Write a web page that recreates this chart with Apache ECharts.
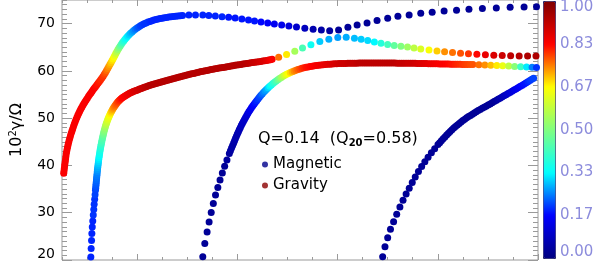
<!DOCTYPE html>
<html><head><meta charset="utf-8">
<script src="https://cdn.jsdelivr.net/npm/echarts@6/dist/echarts.min.js"></script>
<style>html,body{margin:0;padding:0;background:#fff}#c{width:598px;height:261px}</style>
</head><body><div id="c"></div><script>
// ---- data: x (unlabelled axis), y = 10^2 gamma/Omega, c = colour value ----
const topX = [.267,.270,.273,.276,.279,.2825,.286,.2895,.293,.298,.303,.3085,.314,.3205,.327,.3345,.342,.3495,.357,.365,
.373,.3815,.390,.3995,.409,.4185,.428,.438,.448,.4585,.469,.480,.491,.503,.515,.527,.539,.5505,.562,.574,
.586,.5985,.611,.6235,.636,.6485,.661,.6725,.684,.695,.706,.717,.728,.7385,.749,.759,.769,.7785,.788,.7985,
.809,.820,.831,.8425,.854,.8665,.879,.892,.905,.9195,.934,.9495,.965,.9815,.998,1.015,1.032,1.0505,1.069,1.0885,
1.108,1.1275,1.147,1.1675,1.188,1.209,1.230,1.2505,1.271,1.2935,1.316,1.3385,1.361,1.3835,1.406,1.4295,1.453,
1.516,1.582,1.655,1.715,1.780,1.847,1.913,1.978,2.045,2.111,2.171,2.236,2.303,2.369,2.442,2.514,2.590,2.673,2.756,2.838,
2.921,3.010,3.103,3.195,3.294,3.394,3.500,3.602,3.714,3.830,3.944,4.063,4.187,4.311,4.445,4.584,4.722,4.861,4.985];
const topY = [38.34,38.85,39.35,39.86,40.37,40.89,41.41,41.99,42.57,43.10,43.63,44.16,44.68,45.21,45.74,46.27,46.80,47.30,47.79,48.28,
48.77,49.25,49.72,50.20,50.67,51.10,51.52,51.92,52.32,52.71,53.10,53.47,53.84,54.24,54.63,54.99,55.35,55.70,56.05,56.39,
56.72,57.07,57.42,57.78,58.14,58.51,58.88,59.28,59.68,60.10,60.51,60.92,61.33,61.74,62.14,62.54,62.94,63.33,63.72,64.12,
64.51,64.89,65.27,65.63,65.99,66.34,66.69,67.02,67.34,67.65,67.96,68.25,68.53,68.80,69.06,69.30,69.54,69.76,69.97,70.15,
70.32,70.47,70.62,70.75,70.87,70.97,71.07,71.15,71.23,71.31,71.38,71.45,71.51,71.58,71.64,71.69,71.74,
71.83,71.83,71.83,71.72,71.62,71.47,71.34,71.19,70.98,70.77,70.56,70.35,70.13,69.92,69.71,69.50,69.29,69.01,68.80,68.65,
68.51,68.65,69.22,69.71,70.13,70.66,71.13,71.55,71.83,72.19,72.42,72.67,72.84,73.03,73.18,73.31,73.46,73.52,73.56];
const topC = [.84,.84,.84,.84,.84,.84,.84,.84,.84,.84,.84,.84,.84,.84,.84,.84,.84,.84,.84,.84,
.84,.84,.84,.84,.84,.84,.84,.84,.84,.84,.84,.84,.84,.84,.84,.84,.84,.84,.84,.84,
.83,.825,.82,.815,.81,.805,.8,.79,.78,.765,.75,.735,.72,.705,.69,.675,.66,.63,.6,.565,
.53,.5,.47,.44,.41,.385,.36,.34,.32,.305,.29,.275,.26,.245,.23,.22,.21,.205,.2,.2,
.2,.195,.19,.19,.19,.19,.19,.19,.19,.19,.19,.19,.19,.19,.19,.19,.19,
.19,.19,.19,.19,.19,.19,.18,.18,.18,.18,.18,.17,.16,.15,.14,.12,.1,.08,.06,.05,
.04,.03,.03,.03,.03,.03,.03,.03,.03,.03,.03,.03,.03,.03,.03,.03,.03,.03,.03];

const midX = [.538,.541,.545,.548,.552,.557,.562,.567,.571,.576,.580,
.584,.586,.588,.590,.592,.594,.596,.598,.600,.602,.604,.6065,.609,.6115,.614,.6165,.619,.622,.625,.628,
.631,.6345,.638,.6415,.645,.649,.653,.657,.661,.665,.669,.674,.679,.684,.689,.6945,.700,.706,.712,.7185,
.725,.732,.739,.7465,.754,.762,.770,.7785,.787,.7965,.806,.816,.826,.837,.848,.8595,.871,.883,.895,.9075,
.920,.9335,.947,.961,.975,.9895,1.004,1.0185,1.033,1.0485,1.064,1.080,1.096,1.1125,1.129,1.1455,1.162,1.1795,1.197,1.2145,
1.232,1.2495,1.267,1.285,1.303,1.321,1.339,1.3575,1.376,1.394,1.412,1.431,1.450,1.469,1.488,1.5065,1.525,1.544,1.563,1.5825,
1.602,1.621,1.640,1.6595,1.679,1.6985,1.718,1.7375,1.757,1.777,1.797,1.817,1.837,1.8565,1.876,1.896,1.916,1.936,1.956,1.9755,
1.995,2.015,2.035,2.055,2.075,2.0945,2.114,2.134,2.154,2.174,2.194,2.2135,2.233,2.253,2.273,2.293,2.313,2.330,2.347,
2.412,2.491,2.573,2.650,2.734,2.823,2.913,3.002,3.086,3.168,3.235,3.301,3.367,3.433,3.500,3.565,3.632,3.698,3.763,3.830,
3.912,3.992,4.068,4.147,4.227,4.306,4.390,4.475,4.559,4.643,4.727,4.812,4.896,4.980];
const midY = [20.63,22.43,24.12,25.60,26.98,28.25,29.52,30.68,31.78,32.84,33.81,
34.74,35.20,35.65,36.08,36.50,36.95,37.39,37.83,38.27,38.71,39.14,39.57,39.99,40.41,40.83,41.25,41.66,42.07,42.48,42.90,
43.31,43.71,44.11,44.51,44.90,45.29,45.68,46.06,46.44,46.81,47.18,47.55,47.92,48.28,48.64,48.98,49.32,49.66,49.99,50.31,
50.63,50.94,51.24,51.54,51.84,52.12,52.39,52.65,52.91,53.16,53.40,53.62,53.84,54.05,54.25,54.43,54.61,54.77,54.92,55.07,
55.22,55.36,55.49,55.62,55.75,55.87,55.98,56.10,56.21,56.35,56.49,56.61,56.72,56.84,56.95,57.07,57.19,57.30,57.40,57.51,
57.61,57.72,57.82,57.93,58.03,58.14,58.25,58.36,58.46,58.57,58.67,58.78,58.88,58.99,59.09,59.19,59.28,59.38,59.47,59.57,
59.66,59.76,59.85,59.94,60.02,60.11,60.19,60.28,60.36,60.44,60.51,60.59,60.66,60.73,60.80,60.88,60.95,61.03,61.10,61.18,
61.25,61.32,61.38,61.44,61.50,61.57,61.63,61.70,61.76,61.82,61.88,61.95,62.01,62.08,62.14,62.22,62.29,62.38,62.46,
62.90,63.49,64.17,64.85,65.52,66.20,66.71,67.05,67.11,66.90,66.69,66.41,66.11,65.84,65.59,65.37,65.21,65.06,64.85,64.63,
64.42,64.21,64.04,63.89,63.75,63.62,63.51,63.41,63.32,63.26,63.20,63.15,63.15,63.15];
const midC = [.19,.19,.19,.19,.19,.19,.2,.2,.2,.2,.21,
.21,.215,.22,.225,.23,.235,.24,.245,.25,.26,.27,.28,.29,.30,.31,.32,.33,.34,.35,.36,
.37,.38,.39,.405,.42,.43,.44,.455,.47,.485,.5,.515,.53,.55,.57,.585,.6,.615,.63,.645,
.66,.675,.69,.705,.72,.735,.75,.76,.77,.78,.79,.80,.81,.82,.83,.835,.84,.845,.85,.855,
.86,.865,.87,.875,.88,.885,.89,.895,.9,.905,.91,.915,.92,.925,.93,.93,.93,.93,.93,.93,
.93,.93,.93,.93,.93,.93,.93,.93,.93,.93,.93,.93,.93,.93,.93,.93,.93,.93,.93,.93,
.93,.93,.93,.93,.93,.93,.93,.93,.93,.93,.93,.93,.93,.93,.93,.93,.93,.93,.93,.93,
.93,.93,.93,.93,.93,.925,.92,.915,.91,.905,.9,.895,.89,.885,.88,.87,.86,.85,.84,
.76,.68,.55,.43,.35,.3,.28,.27,.28,.29,.3,.31,.33,.38,.42,.46,.5,.54,.58,.62,
.66,.7,.74,.76,.78,.8,.83,.86,.88,.9,.92,.93,.94,.94];

const low1X = [1.655,1.675,1.698,1.718,1.739,1.760,1.782,1.805,1.827,1.850,1.873,1.896,
1.920,1.931,1.942,1.9525,1.963,1.972,1.981,1.9905,2.000,2.0095,2.019,2.029,2.039,2.0495,2.060,2.071,2.082,2.093,2.104,2.116,
2.128,2.1405,2.153,2.166,2.179,2.1925,2.206,2.2195,2.233,2.2475,2.262,2.277,2.292,2.3075,2.323,2.3385,2.354,2.3705,2.387,2.404,
2.421,2.438,2.455,2.473,2.491,2.5095,2.528,2.547,2.566,2.585,2.604,2.624,2.644,2.6645,2.685,2.7055,2.726,2.7475,2.769,2.7905,
2.812,2.8345,2.857,2.880,2.903,2.925,2.947,2.9695,2.992,3.0145,3.037,3.059,3.081,3.1035,3.126,3.148,3.170,3.1925,3.215,3.2375,
3.260,3.282,3.304,3.3265,3.349,3.3715,3.394,3.416,3.438,3.4605,3.483,3.505,3.527,3.5495,3.572,3.5945,3.617,3.639,3.661,3.6835,
3.706,3.7285,3.751,3.773,3.795,3.8175,3.840,3.862,3.884,3.9065,3.929,3.9515,3.974,3.996,4.018,4.0405,4.063,4.0855,4.108,4.130,
4.152,4.1745,4.197,4.2215,4.246,4.271,4.296,4.3235,4.351,
4.410,4.470,4.529,4.589,4.648,4.708,4.767,4.827,4.886,4.941,4.985];
const low1Y = [20.70,23.49,25.92,28.04,30.05,31.95,33.75,35.33,36.92,38.40,39.82,41.15,
42.53,43.11,43.69,44.22,44.75,45.23,45.70,46.18,46.65,47.10,47.54,47.99,48.43,48.87,49.30,49.72,50.14,50.57,50.99,51.39,
51.79,52.19,52.58,52.96,53.34,53.71,54.08,54.44,54.80,55.14,55.47,55.80,56.13,56.44,56.74,57.04,57.34,57.62,57.89,58.14,
58.39,58.63,58.86,59.07,59.28,59.47,59.66,59.83,60.00,60.15,60.30,60.43,60.55,60.66,60.76,60.85,60.93,61.01,61.08,61.15,
61.21,61.26,61.31,61.36,61.40,61.43,61.46,61.49,61.52,61.55,61.57,61.58,61.59,61.60,61.61,61.62,61.63,61.64,61.65,61.65,
61.65,61.65,61.65,61.65,61.65,61.65,61.65,61.65,61.65,61.65,61.65,61.65,61.65,61.65,61.65,61.64,61.63,61.63,61.63,61.62,
61.61,61.61,61.61,61.60,61.59,61.58,61.57,61.56,61.55,61.54,61.52,61.51,61.50,61.49,61.48,61.47,61.46,61.45,61.44,61.43,
61.42,61.41,61.40,61.39,61.38,61.37,61.35,61.34,61.33,
61.29,61.25,61.21,61.14,61.08,61.02,60.95,60.89,60.83,60.76,60.72];
const low1C = [.03,.03,.03,.03,.03,.03,.03,.03,.03,.03,.03,.04,
.04,.045,.05,.05,.05,.055,.06,.06,.06,.065,.07,.075,.08,.085,.09,.095,.1,.11,.12,.13,
.14,.15,.16,.17,.18,.19,.2,.21,.22,.235,.25,.265,.28,.305,.33,.355,.38,.405,.43,.465,
.5,.535,.57,.605,.64,.665,.69,.715,.74,.755,.77,.785,.8,.81,.82,.825,.83,.835,.84,.845,
.85,.855,.86,.865,.87,.875,.88,.885,.89,.895,.9,.9,.9,.905,.91,.91,.91,.915,.92,.92,
.92,.92,.92,.92,.92,.92,.92,.92,.92,.92,.92,.92,.92,.92,.92,.915,.91,.91,.91,.905,
.9,.9,.9,.895,.89,.885,.88,.875,.87,.865,.86,.855,.85,.845,.84,.84,.84,.835,.83,.825,
.82,.815,.81,.805,.8,.795,.79,.785,.78,
.76,.74,.71,.68,.64,.58,.51,.41,.32,.25,.2];

const low2X = [3.450,3.473,3.500,3.528,3.559,3.590,3.622,3.653,3.684,3.715,3.745,3.775,3.807,3.839,3.871,3.903,3.936,3.969,
4.002,4.019,4.036,4.0535,4.071,4.0885,4.106,4.1235,4.141,4.159,4.177,4.1955,4.214,4.232,4.250,4.269,4.288,4.307,4.326,4.345,
4.364,4.3835,4.403,4.423,4.443,4.4625,4.482,4.502,4.522,4.542,4.562,4.5815,4.601,4.621,4.641,4.661,4.681,4.7005,4.720,4.740,
4.760,4.780,4.800,4.8195,4.839,4.859,4.879,4.899,4.919,4.9375,4.956,4.972,4.988];
const low2Y = [20.70,22.81,24.71,26.49,28.10,29.69,31.21,32.65,33.96,35.19,36.37,37.56,38.70,39.76,40.77,41.74,42.68,43.56,
44.41,44.82,45.23,45.64,46.04,46.42,46.80,47.17,47.54,47.90,48.26,48.58,48.89,49.19,49.49,49.79,50.08,50.34,50.59,50.84,
51.09,51.35,51.60,51.85,52.09,52.32,52.55,52.79,53.02,53.27,53.51,53.75,53.99,54.24,54.48,54.73,54.97,55.21,55.45,55.70,
55.94,56.19,56.43,56.68,56.93,57.19,57.44,57.70,57.95,58.21,58.46,58.67,58.88];
const low2C = [.03,.03,.03,.03,.03,.03,.03,.03,.03,.03,.03,.03,.03,.03,.03,.03,.03,.03,
.03,.03,.03,.03,.03,.03,.03,.03,.03,.03,.03,.03,.03,.03,.03,.03,.03,.03,.03,.03,
.03,.03,.03,.03,.03,.03,.03,.03,.03,.03,.03,.04,.05,.06,.07,.08,.09,.1,.11,.12,
.13,.14,.15,.16,.17,.175,.18,.19,.2,.205,.21];

const xMajorTicks = [1, 2, 3, 4, 5];
const yTickLabels = ['20','30','40','50','60','70'];
const cbTickLabels = ['0.00','0.17','0.33','0.50','0.67','0.83','1.00'];
const legendNames = ['Magnetic', 'Gravity'];
const annotation = 'Q=0.14  (Q{sub|20}=0.58)';

// ---- chart ----
const FONT = 'DejaVu Sans';
const TICK = '#9a9a9a';
const cbColors = ['#000080','#0000ff','#00ffff','#80ff80','#ffff00','#ff0000','#800000'];
const curves = [[topX,topY,topC],[midX,midY,midC],[low1X,low1Y,low1C],[low2X,low2Y,low2C]];
const pts = (xs, ys, cs) => xs.map((x, i) => [x, ys[i], cs[i]]);

function xAx(pos, major) {
  return {type:'value', gridIndex:0, position:pos, min:0.25, max:5,
    interval: major ? undefined : 0.25,
    axisLine:{show:false}, splitLine:{show:false}, axisLabel:{show:false},
    axisTick:{show:true, inside:true, length: major ? 6 : 3, lineStyle:{color:TICK},
      customValues: major ? xMajorTicks : undefined}};
}
function yAx(pos, major, labels) {
  const a = {type:'value', gridIndex:0, position:pos, min:20, max:75,
    interval: major ? 10 : 1,
    axisLine:{show:false}, splitLine:{show:false},
    axisTick:{show:true, inside:true, length: major ? 10 : 5, lineStyle:{color:TICK}},
    axisLabel:{show:false}};
  if (labels) {
    a.axisLabel = {show:true, margin:7, showMaxLabel:false, fontSize:14, fontFamily:FONT, color:'#000',
      formatter: v => v === 20 ? '{lo|' + yTickLabels[0] + '}' : yTickLabels[(v - 20) / 10],
      rich:{lo:{fontSize:14, fontFamily:FONT, color:'#000', padding:[0,0,12,0]}}};
    a.name = '10{s|2}γ/Ω';
    a.nameLocation = 'middle';
    a.nameGap = 36;
    a.nameRotate = 90;
    a.nameTextStyle = {fontSize:16, fontFamily:FONT, color:'#000', lineHeight:18,
      rich:{s:{fontSize:10, fontFamily:FONT, color:'#000', verticalAlign:'top', lineHeight:10}}};
  }
  return a;
}

const series = curves.map(c => ({type:'scatter', xAxisIndex:0, yAxisIndex:0,
  data: pts(c[0], c[1], c[2]), symbolSize:7, itemStyle:{opacity:1}, silent:true}));
series.push({type:'scatter', name:legendNames[0], data:[], itemStyle:{color:'#00008b'}});
series.push({type:'scatter', name:legendNames[1], data:[], itemStyle:{color:'#8b0000'}});

const option = {
  animation:false,
  backgroundColor:'#fff',
  grid:[
    {left:59, right:60, top:0, bottom:1, show:true, borderColor:TICK, borderWidth:1, backgroundColor:'transparent'},
    {left:543, top:1, width:12, height:257}
  ],
  xAxis:[xAx('bottom', false), xAx('bottom', true), xAx('top', false), xAx('top', true),
    {type:'value', gridIndex:1, show:false, min:0, max:1}],
  yAxis:[yAx('left', true, true), yAx('left', false), yAx('right', true), yAx('right', false),
    {type:'value', gridIndex:1, position:'right', min:0, max:6, interval:1,
      axisLine:{show:false}, axisTick:{show:false}, splitLine:{show:false},
      axisLabel:{margin:5, fontSize:15, fontFamily:FONT, color:'#8c8cdc',
        formatter: v => v === 6 ? '{t|' + cbTickLabels[6] + '}' : v === 0 ? '{b|' + cbTickLabels[0] + '}' : cbTickLabels[v],
        rich:{t:{fontSize:15, fontFamily:FONT, color:'#8c8cdc', padding:[12,0,0,0]},
              b:{fontSize:15, fontFamily:FONT, color:'#8c8cdc', padding:[0,0,12,0]}}}}],
  visualMap:{type:'continuous', min:0, max:1, dimension:2, seriesIndex:[0,1,2,3],
    inRange:{color:cbColors}, orient:'vertical', left:543, top:1, itemWidth:12, itemHeight:257,
    calculable:false, hoverLink:false, padding:0, borderColor:'#22226a', borderWidth:1, text:null},
  legend:{orient:'vertical', left:257, top:152, itemWidth:6, itemHeight:6, itemGap:6, icon:'circle',
    selectedMode:false, data:legendNames,
    textStyle:{fontSize:15, fontFamily:FONT, color:'#000', padding:[0,0,8,0]}},
  title:{text:annotation, left:253, top:125,
    textStyle:{fontSize:16, fontWeight:'normal', fontFamily:FONT, color:'#000', lineHeight:18,
      rich:{sub:{fontSize:10, fontWeight:'bold', fontFamily:FONT, color:'#000', verticalAlign:'bottom', lineHeight:10}}}},
  series: series
};
const chart = echarts.init(document.getElementById('c'), null, {renderer:'canvas'});
chart.setOption(option);
</script></body></html>
